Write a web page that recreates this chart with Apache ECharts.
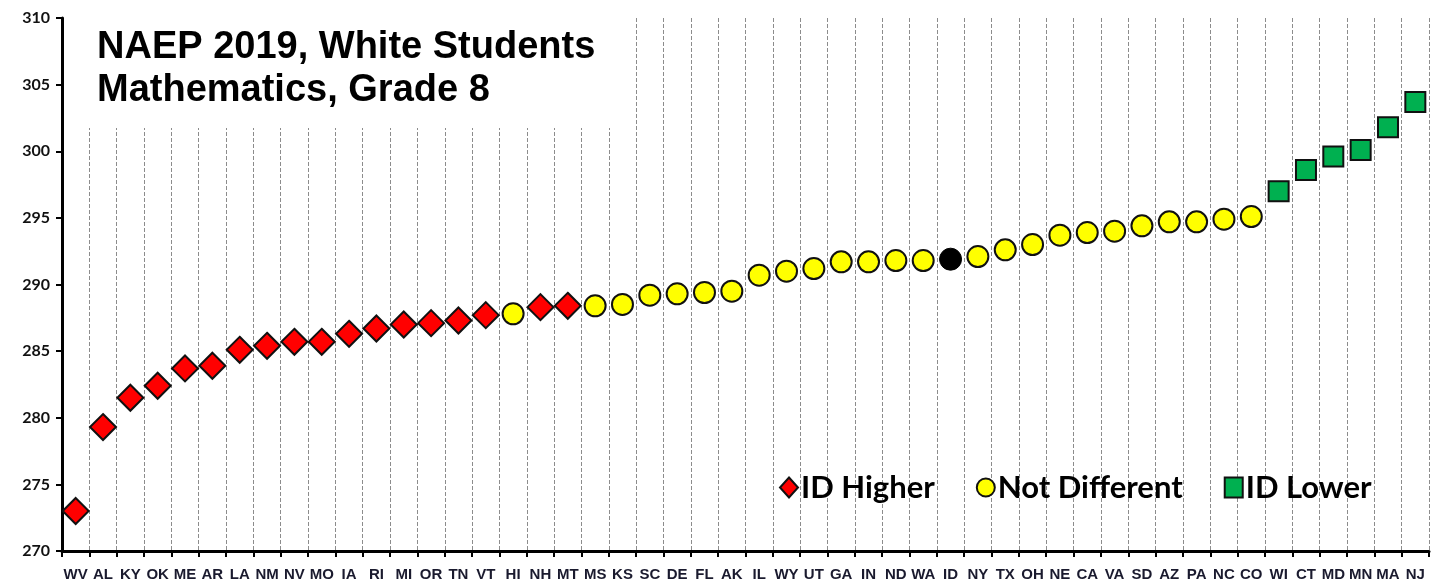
<!DOCTYPE html>
<html>
<head>
<meta charset="utf-8">
<title>NAEP 2019, White Students - Mathematics, Grade 8</title>
<script src="https://cdn.jsdelivr.net/npm/echarts@6/dist/echarts.min.js"></script>
<style>
    html, body { margin: 0; padding: 0; background: #fff; }
    #chart { width: 1437px; height: 586px; }
</style>
</head>
<body>
<div id="chart"></div>
<script>
// states, ordered by score
var states = ['WV', 'AL', 'KY', 'OK', 'ME', 'AR', 'LA', 'NM', 'NV', 'MO',
    'IA', 'RI', 'MI', 'OR', 'TN', 'VT', 'HI', 'NH', 'MT', 'MS',
    'KS', 'SC', 'DE', 'FL', 'AK', 'IL', 'WY', 'UT', 'GA', 'IN',
    'ND', 'WA', 'ID', 'NY', 'TX', 'OH', 'NE', 'CA', 'VA', 'SD',
    'AZ', 'PA', 'NC', 'CO', 'WI', 'CT', 'MD', 'MN', 'MA', 'NJ'];

// average scale scores
var scores = [273.0, 279.3, 281.5, 282.4, 283.7, 283.9, 285.1, 285.4, 285.7, 285.7,
    286.3, 286.7, 287.0, 287.1, 287.3, 287.7, 287.8, 288.3, 288.4, 288.4,
    288.5, 289.2, 289.3, 289.4, 289.5, 290.7, 291.0, 291.2, 291.7, 291.7,
    291.8, 291.8, 291.9, 292.1, 292.6, 293.0, 293.7, 293.9, 294.0, 294.4,
    294.7, 294.7, 294.9, 295.1, 297.0, 298.6, 299.6, 300.1, 301.8, 303.7];

// H = ID higher, N = not different, L = ID lower, ID = Idaho itself
var groups = ['H', 'H', 'H', 'H', 'H', 'H', 'H', 'H', 'H', 'H',
    'H', 'H', 'H', 'H', 'H', 'H', 'N', 'H', 'H', 'N',
    'N', 'N', 'N', 'N', 'N', 'N', 'N', 'N', 'N', 'N',
    'N', 'N', 'ID', 'N', 'N', 'N', 'N', 'N', 'N', 'N',
    'N', 'N', 'N', 'N', 'L', 'L', 'L', 'L', 'L', 'L'];

var yTicks = [270, 275, 280, 285, 290, 295, 300, 305, 310];

function pick(code) {
    return scores.map(function (v, i) { return groups[i] === code ? v : null; });
}

var chart = echarts.init(document.getElementById('chart'));

var option = {
    animation: false,
    title: {
        text: 'NAEP 2019, White Students\nMathematics, Grade 8',
        left: 80,
        top: 0,
        padding: [26, 26, 16, 17],
        backgroundColor: '#fff',
        textStyle: {
            fontFamily: 'Liberation Sans, Arial, sans-serif',
            fontWeight: 'bold',
            fontSize: 38,
            lineHeight: 43,
            color: '#000'
        }
    },
    legend: {
        data: [
            { name: 'ID Higher', icon: 'diamond' },
            { name: 'Not Different', icon: 'circle' },
            { name: 'ID Lower', icon: 'rect' }
        ],
        left: 774,
        top: 467,
        itemWidth: 18,
        itemHeight: 20,
        itemGap: 41,
        textStyle: {
            fontFamily: 'Lato, Open Sans, sans-serif',
            fontWeight: 'bold',
            fontSize: 31,
            color: '#000',
            padding: [0, 0, 0, -2]
        }
    },
    grid: {
        left: 62,
        right: 8,
        top: 18,
        bottom: 35
    },
    xAxis: {
        type: 'category',
        data: states,
        boundaryGap: true,
        axisLine: { lineStyle: { color: '#000', width: 3 } },
        axisTick: { show: true, interval: 0, length: 6, inside: false, lineStyle: { color: '#000', width: 2 } },
        axisLabel: {
            interval: 0,
            margin: 16,
            fontFamily: 'Liberation Sans Narrow, Liberation Sans, Arial, sans-serif',
            fontWeight: 'bold',
            fontSize: 15,
            color: '#1a1a2e'
        },
        splitLine: {
            show: true,
            interval: 0,
            lineStyle: { color: '#8c8c8c', type: [4, 2], width: 1 }
        }
    },
    yAxis: {
        type: 'value',
        min: yTicks[0],
        max: yTicks[yTicks.length - 1],
        interval: 5,
        axisLine: { show: true, lineStyle: { color: '#000', width: 3 } },
        axisTick: { show: true, length: 6, lineStyle: { color: '#000', width: 2 } },
        axisLabel: {
            margin: 12,
            fontFamily: 'Lato, Open Sans, sans-serif',
            fontWeight: 'bold',
            fontSize: 16,
            color: '#111'
        },
        splitLine: { show: false }
    },
    series: [
        {
            name: 'ID Higher',
            type: 'scatter',
            symbol: 'diamond',
            symbolSize: 26,
            data: pick('H'),
            itemStyle: { color: '#ff0000', borderColor: '#111', borderWidth: 2, opacity: 1 },
            z: 3
        },
        {
            name: 'Not Different',
            type: 'scatter',
            symbol: 'circle',
            symbolSize: 21,
            data: pick('N'),
            itemStyle: { color: '#ffff00', borderColor: '#111', borderWidth: 2, opacity: 1 },
            z: 3
        },
        {
            name: 'ID Lower',
            type: 'scatter',
            symbol: 'rect',
            symbolSize: 20,
            data: pick('L'),
            itemStyle: { color: '#00b050', borderColor: '#111', borderWidth: 2, opacity: 1 },
            z: 3
        },
        {
            name: 'ID',
            type: 'scatter',
            symbol: 'circle',
            symbolSize: 22,
            data: pick('ID'),
            itemStyle: { color: '#000', borderColor: '#000', borderWidth: 1, opacity: 1 },
            z: 3
        }
    ]
};

chart.setOption(option);
</script>
</body>
</html>
